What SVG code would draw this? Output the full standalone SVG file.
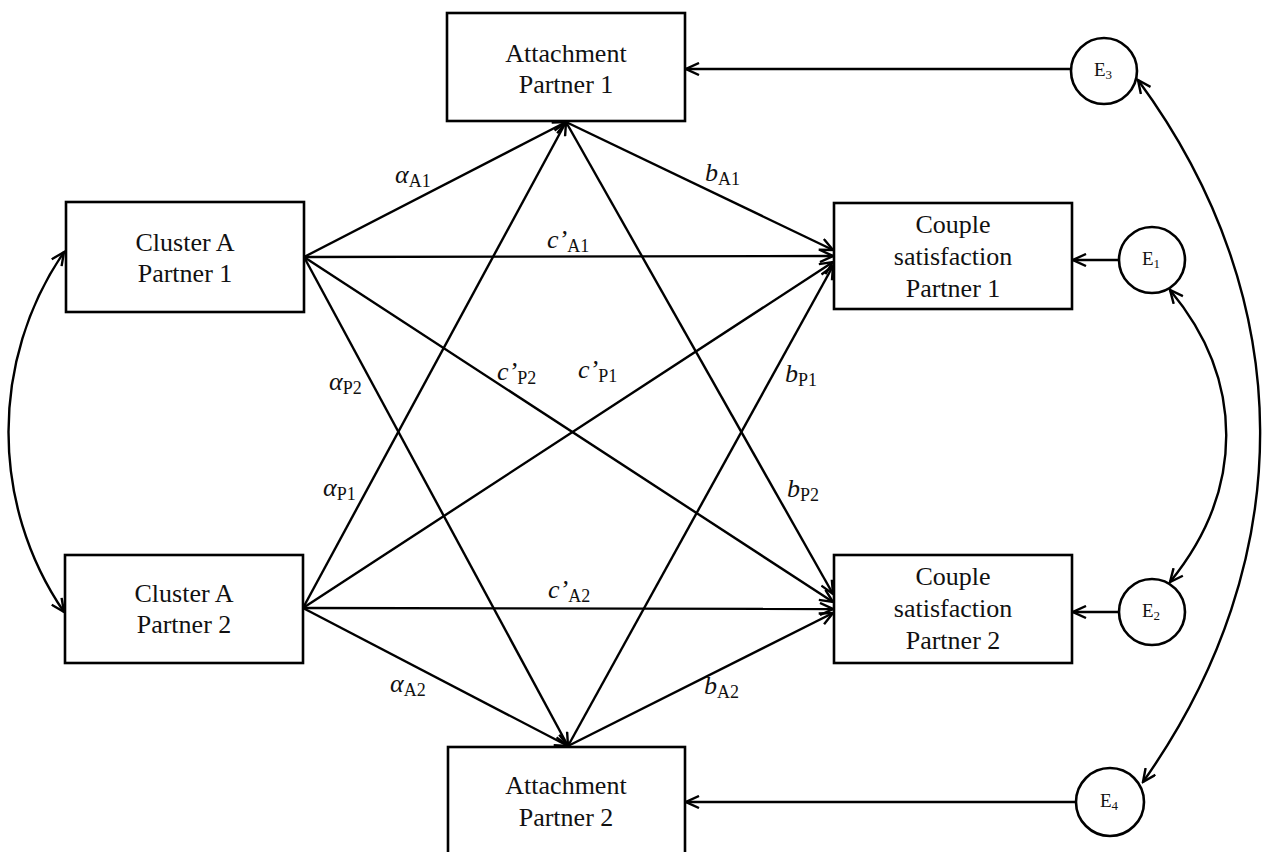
<svg xmlns="http://www.w3.org/2000/svg" width="1272" height="852" viewBox="0 0 1272 852">
<style>
.box{fill:#fff;stroke:#000;stroke-width:2.6}
.circ{fill:#fff;stroke:#000;stroke-width:2.6}
text{font-family:'Liberation Serif','Times New Roman',Times,'DejaVu Serif',serif}
.t{font-size:26px;fill:#111;text-anchor:middle}
.e{font-size:19px;fill:#111}
.es{font-size:13px}
.lbl{font-size:26px;fill:#111}
.it{font-style:italic}
.sub{font-size:18px;font-style:normal}
.c{fill:none;stroke:#000;stroke-width:2.4}
</style>
<defs>
<marker id="ah" markerWidth="16" markerHeight="14" refX="14" refY="7" orient="auto-start-reverse" markerUnits="userSpaceOnUse">
<path d="M1,1 L14,7 L1,13" fill="none" stroke="#000" stroke-width="2.4"/>
</marker>
</defs>
<g id="connectors">
<line class="c" x1="304" y1="257" x2="566" y2="122" marker-end="url(#ah)"/>
<line class="c" x1="304" y1="257" x2="833" y2="256" marker-end="url(#ah)"/>
<line class="c" x1="304" y1="257" x2="833" y2="602" marker-end="url(#ah)"/>
<line class="c" x1="304" y1="257" x2="568" y2="746" marker-end="url(#ah)"/>
<line class="c" x1="303" y1="608" x2="566" y2="122" marker-end="url(#ah)"/>
<line class="c" x1="303" y1="608" x2="833" y2="262" marker-end="url(#ah)"/>
<line class="c" x1="303" y1="608" x2="833" y2="609" marker-end="url(#ah)"/>
<line class="c" x1="303" y1="608" x2="568" y2="746" marker-end="url(#ah)"/>
<line class="c" x1="566" y1="122" x2="833" y2="250" marker-end="url(#ah)"/>
<line class="c" x1="566" y1="122" x2="833" y2="594" marker-end="url(#ah)"/>
<line class="c" x1="568" y1="746" x2="833" y2="266" marker-end="url(#ah)"/>
<line class="c" x1="568" y1="746" x2="833" y2="613" marker-end="url(#ah)"/>
<line class="c" x1="1071" y1="69" x2="686" y2="69" marker-end="url(#ah)"/>
<line class="c" x1="1119" y1="260" x2="1073" y2="260" marker-end="url(#ah)"/>
<line class="c" x1="1119" y1="612" x2="1073" y2="612" marker-end="url(#ah)"/>
<line class="c" x1="1076" y1="802" x2="686" y2="802" marker-end="url(#ah)"/>
<path class="c" d="M64,252 C-10,360 -10,504 64,612" marker-start="url(#ah)" marker-end="url(#ah)"/>
<path class="c" d="M1170,290 C1245,380 1245,490 1170,582" marker-start="url(#ah)" marker-end="url(#ah)"/>
<path class="c" d="M1138,80 C1300,300 1300,560 1143,782" marker-start="url(#ah)" marker-end="url(#ah)"/>
</g>
<g id="labels">
<text class="lbl" x="395" y="183"><tspan class="it">α</tspan><tspan class="sub" dy="4">A1</tspan></text>
<text class="lbl" x="705" y="181"><tspan class="it">b</tspan><tspan class="sub" dy="4">A1</tspan></text>
<text class="lbl" x="547" y="248"><tspan class="it">c’</tspan><tspan class="sub" dy="4">A1</tspan></text>
<text class="lbl" x="329" y="390"><tspan class="it">α</tspan><tspan class="sub" dy="4">P2</tspan></text>
<text class="lbl" x="497" y="380"><tspan class="it">c’</tspan><tspan class="sub" dy="4">P2</tspan></text>
<text class="lbl" x="578" y="378"><tspan class="it">c’</tspan><tspan class="sub" dy="4">P1</tspan></text>
<text class="lbl" x="785" y="382"><tspan class="it">b</tspan><tspan class="sub" dy="4">P1</tspan></text>
<text class="lbl" x="323" y="496"><tspan class="it">α</tspan><tspan class="sub" dy="4">P1</tspan></text>
<text class="lbl" x="787" y="497"><tspan class="it">b</tspan><tspan class="sub" dy="4">P2</tspan></text>
<text class="lbl" x="548" y="598"><tspan class="it">c’</tspan><tspan class="sub" dy="4">A2</tspan></text>
<text class="lbl" x="390" y="692"><tspan class="it">α</tspan><tspan class="sub" dy="4">A2</tspan></text>
<text class="lbl" x="704" y="694"><tspan class="it">b</tspan><tspan class="sub" dy="4">A2</tspan></text>
</g>
<g id="att1">
<rect class="box" x="447" y="13" width="238" height="108"/>
<text class="t" x="566" y="62">Attachment</text>
<text class="t" x="566" y="93">Partner 1</text>
</g>
<g id="att2">
<rect class="box" x="448" y="747" width="237" height="110"/>
<text class="t" x="566" y="794">Attachment</text>
<text class="t" x="566" y="826">Partner 2</text>
</g>
<g id="ca1">
<rect class="box" x="66" y="202" width="238" height="110"/>
<text class="t" x="185" y="251">Cluster A</text>
<text class="t" x="185" y="282">Partner 1</text>
</g>
<g id="ca2">
<rect class="box" x="65" y="555" width="238" height="108"/>
<text class="t" x="184" y="602">Cluster A</text>
<text class="t" x="184" y="633">Partner 2</text>
</g>
<g id="cs1">
<rect class="box" x="834" y="203" width="238" height="106"/>
<text class="t" x="953" y="233">Couple</text>
<text class="t" x="953" y="265">satisfaction</text>
<text class="t" x="953" y="297">Partner 1</text>
</g>
<g id="cs2">
<rect class="box" x="834" y="555" width="238" height="108"/>
<text class="t" x="953" y="585">Couple</text>
<text class="t" x="953" y="617">satisfaction</text>
<text class="t" x="953" y="649">Partner 2</text>
</g>
<g id="e3">
<circle class="circ" cx="1104" cy="71" r="33"/>
<text class="e" x="1094" y="76">E<tspan class="es" dy="3">3</tspan></text>
</g>
<g id="e1">
<circle class="circ" cx="1152" cy="260" r="33"/>
<text class="e" x="1142" y="265">E<tspan class="es" dy="3">1</tspan></text>
</g>
<g id="e2">
<circle class="circ" cx="1152" cy="612" r="33"/>
<text class="e" x="1142" y="617">E<tspan class="es" dy="3">2</tspan></text>
</g>
<g id="e4">
<circle class="circ" cx="1110" cy="802" r="34"/>
<text class="e" x="1100" y="807">E<tspan class="es" dy="3">4</tspan></text>
</g>
</svg>
